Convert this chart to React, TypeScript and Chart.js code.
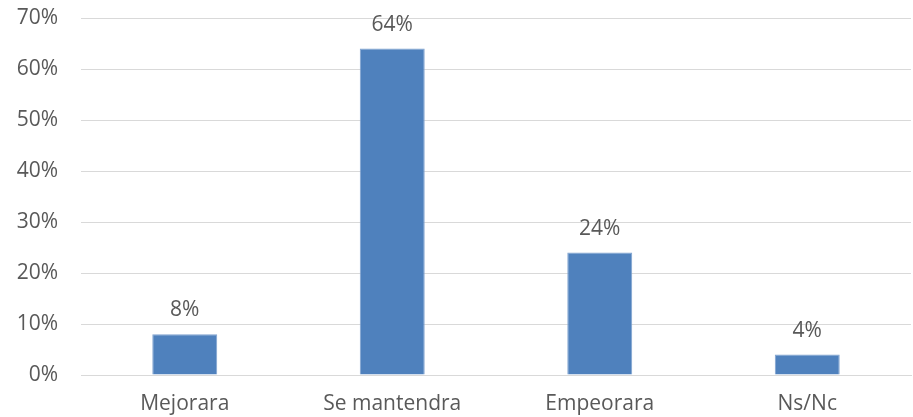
import React, { useEffect, useRef } from "react";
import { Chart, registerables } from "chart.js";

Chart.register(...registerables);

const categories = ["Mejorara", "Se mantendra", "Empeorara", "Ns/Nc"];
const values = [8, 64, 24, 4];
const yMax = 70;
const yStep = 10;

const FONT = "'Open Sans', sans-serif";
const TEXT = "#595959";

const labelPlugin = {
  id: "barLabels",
  afterDatasetsDraw(chart: any) {
    const ctx = chart.ctx;
    const meta = chart.getDatasetMeta(0);
    ctx.save();
    ctx.font = `21px ${FONT}`;
    ctx.fillStyle = TEXT;
    ctx.textAlign = "center";
    ctx.textBaseline = "alphabetic";
    meta.data.forEach((bar: any, i: number) => {
      ctx.fillText(values[i] + "%", bar.x, bar.y - 18);
    });
    ctx.restore();
  },
};

export default function App() {
  const ref = useRef<HTMLCanvasElement>(null);
  useEffect(() => {
    if (!ref.current) return;
    const chart = new Chart(ref.current, {
      type: "bar",
      data: {
        labels: categories,
        datasets: [
          {
            data: values,
            backgroundColor: "#4F81BD",
            borderColor: "#7FA2CF",
            borderWidth: 1,
            barPercentage: 0.313,
            categoryPercentage: 1,
          },
        ],
      },
      options: {
        animation: false,
        responsive: true,
        maintainAspectRatio: false,
        layout: { padding: { top: 18, right: 2, left: 0, bottom: 0 } },
        plugins: { legend: { display: false }, tooltip: { enabled: false } },
        scales: {
          x: {
            grid: { display: false, drawTicks: false },
            border: { display: true, color: "#D9D9D9" },
            ticks: { color: TEXT, font: { family: FONT, size: 21 }, padding: 16 },
            afterFit: (s: any) => {
              s.height = 42;
              s.paddingLeft = 0;
              s.paddingRight = 0;
            },
          },
          y: {
            min: 0,
            max: yMax,
            ticks: {
              stepSize: yStep,
              color: TEXT,
              font: { family: FONT, size: 21 },
              padding: 23,
              callback: (v: any) => v + "%",
            },
            grid: { color: "#D9D9D9", drawTicks: false, lineWidth: 1 },
            border: { display: false },
            afterFit: (s: any) => {
              s.width = 81;
              s.paddingTop = 0;
              s.paddingBottom = 0;
            },
          },
        },
      },
      plugins: [labelPlugin],
    });
    return () => chart.destroy();
  }, []);
  return (
    <div style={{ position: "fixed", left: 0, top: 0, width: 913, height: 417, background: "#fff" }}>
      <canvas ref={ref} />
    </div>
  );
}
